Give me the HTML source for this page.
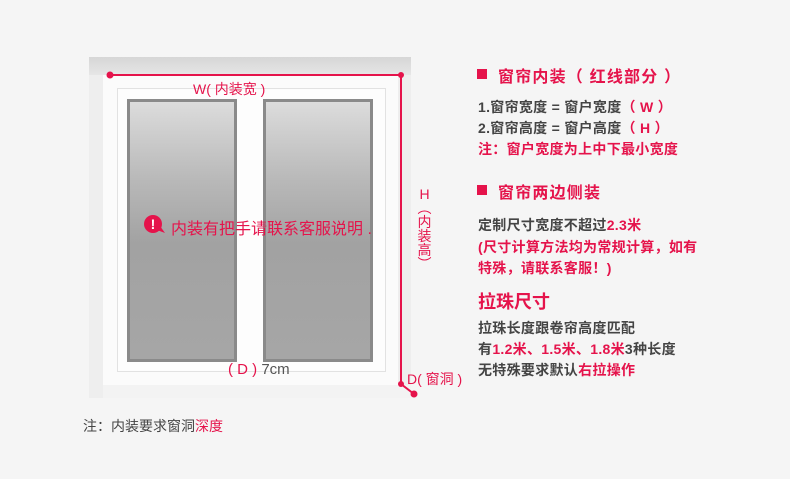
<!DOCTYPE html>
<html><head><meta charset="utf-8"><style>
body{margin:0;width:790px;height:479px;background:#f5f5f5;position:relative;overflow:hidden;font-family:"Liberation Sans","Noto Sans CJK SC",sans-serif}
.a{position:absolute;white-space:nowrap}
.r{color:#e5134b}
.g{color:#444}
.b{font-weight:bold}
.sq{position:absolute;width:10px;height:10px;background:#e5134b}
.t{font-size:14px;letter-spacing:0.3px}
</style></head><body>
<!-- opening -->
<div class="a" style="left:89px;top:57px;width:322px;height:341px;background:#eeeeee"></div>
<div class="a" style="left:89px;top:57px;width:322px;height:18px;background:linear-gradient(#d6d6d6,#e6e6e6)"></div>
<div class="a" style="left:103px;top:75px;width:295px;height:310px;background:#fbfbfb"></div>
<div class="a" style="left:103px;top:385px;width:308px;height:13px;background:#f3f3f3"></div>
<div class="a" style="left:117px;top:88px;width:267px;height:282px;border:1px solid #e2e2e2;background:#fdfdfd"></div>
<div class="a" style="left:127px;top:99px;width:104px;height:257px;border:3px solid #8a8a8a;background:linear-gradient(#dcdcdc,#b9b9b9 30%,#a2a2a2 55%,#a6a6a6)"></div>
<div class="a" style="left:263px;top:99px;width:104px;height:257px;border:3px solid #8a8a8a;background:linear-gradient(#dcdcdc,#b9b9b9 30%,#a2a2a2 55%,#a6a6a6)"></div>
<svg class="a" style="left:0;top:0" width="790" height="479">
<g stroke="#e5134b" stroke-width="2" fill="none"><polyline points="110,75 401,75 401,384 414,394"/></g>
<g fill="#e5134b"><circle cx="110" cy="75" r="3.5"/><circle cx="401" cy="75" r="3"/><circle cx="401" cy="384" r="3"/><circle cx="414" cy="394" r="3.5"/>
<circle cx="153" cy="224" r="9"/><polygon points="157,230 165,233 160,226"/></g>
<text x="153" y="229" fill="#fff" font-size="14" font-weight="bold" text-anchor="middle" font-family="Liberation Sans">!</text>
</svg>
<div class="a r" style="left:193px;top:79px;font-size:14px">W( 内装宽 )</div>
<div class="a r" style="left:171px;top:215px;font-size:16px">内装有把手请联系客服说明 .</div>
<div class="a" style="left:228px;top:361px;font-size:15px;color:#555"><span class="r">( D )</span> 7cm</div>
<div class="a r" style="left:407px;top:369px;font-size:14px">D( 窗洞 )</div>
<div class="a r" style="left:417px;top:187px;font-size:14px;line-height:14px;width:15px;text-align:center;white-space:normal">H<br>︵<br>内<br>装<br>高<br>︶</div>
<div class="a g" style="left:83px;top:416px;font-size:14px">注：内装要求窗洞<span class="r">深度</span></div>
<!-- right -->
<div class="sq" style="left:477px;top:69px"></div>
<div class="a r b" style="left:498px;top:63px;font-size:16px;letter-spacing:1.2px">窗帘内装（ 红线部分 ）</div>
<div class="a g b t" style="left:478px;top:97px">1.窗帘宽度 = 窗户宽度<span class="r">（ W ）</span></div>
<div class="a g b t" style="left:478px;top:118px">2.窗帘高度 = 窗户高度<span class="r">（ H ）</span></div>
<div class="a r b t" style="left:478px;top:139px">注：窗户宽度为上中下最小宽度</div>
<div class="sq" style="left:477px;top:185px"></div>
<div class="a r b" style="left:498px;top:179px;font-size:16px;letter-spacing:1.2px">窗帘两边侧装</div>
<div class="a g b t" style="left:478px;top:215px">定制尺寸宽度不超过<span class="r">2.3米</span></div>
<div class="a r b t" style="left:478px;top:237px">(尺寸计算方法均为常规计算，如有</div>
<div class="a r b t" style="left:478px;top:258px">特殊，请联系客服！)</div>
<div class="a r b" style="left:478px;top:288px;font-size:18px">拉珠尺寸</div>
<div class="a g b t" style="left:478px;top:318px">拉珠长度跟卷帘高度匹配</div>
<div class="a g b t" style="left:478px;top:339px">有<span class="r">1.2米、1.5米、1.8米</span>3种长度</div>
<div class="a g b t" style="left:478px;top:360px">无特殊要求默认<span class="r">右拉操作</span></div>
</body></html>
